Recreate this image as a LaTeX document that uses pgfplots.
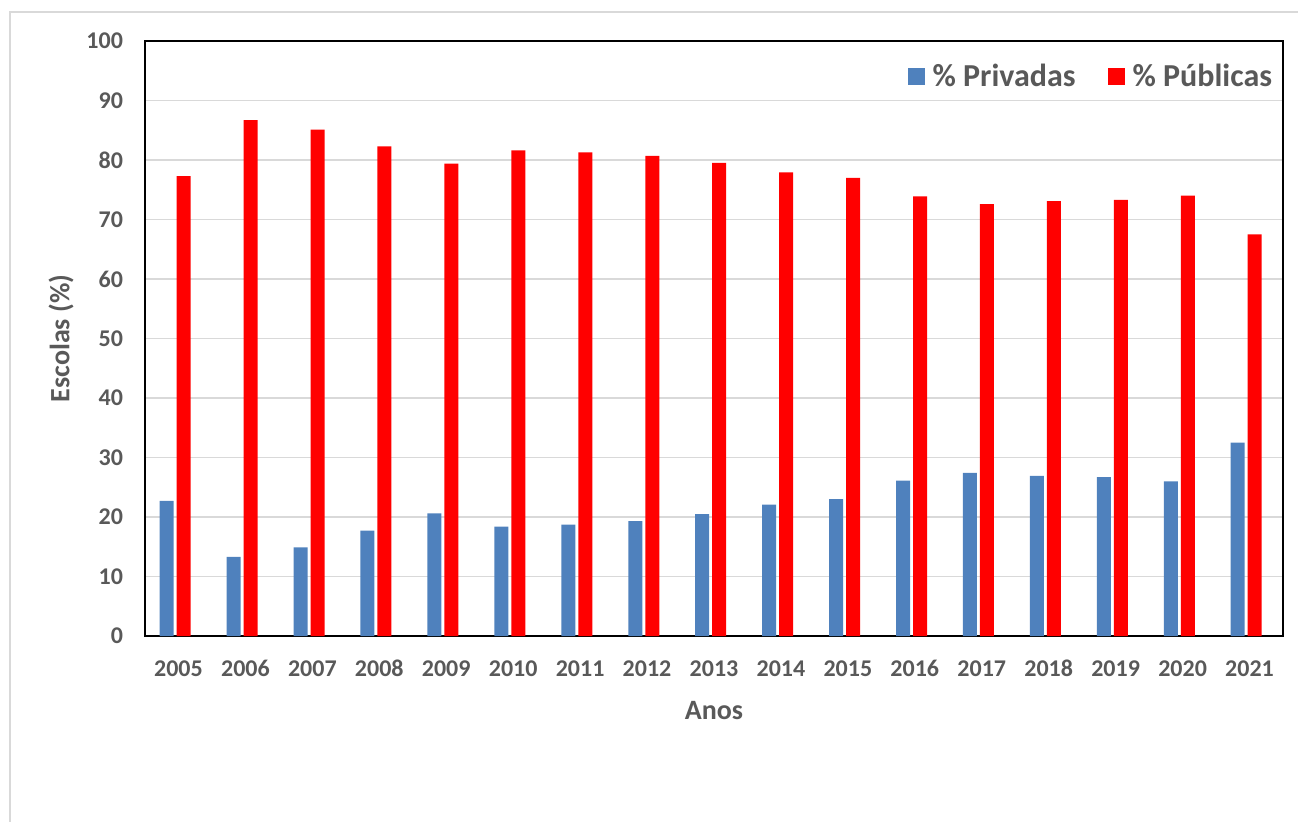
\documentclass[border=0pt]{standalone}
\usepackage{pgfplots}
\pgfplotsset{compat=1.18}
\usepackage{fontspec}
\setmainfont{Carlito}
\definecolor{Priv}{RGB}{79,129,189}
\definecolor{Pub}{RGB}{255,0,0}
\definecolor{txt}{RGB}{89,89,89}
\definecolor{gridc}{RGB}{217,217,217}

\begin{document}
\begin{tikzpicture}[x=0.5pt,y=0.5pt]
% page frame: 1298 x 821 px, 1 px = 0.5pt, axis box lower left at px (145,636)
\useasboundingbox (-145,-185) rectangle (1153,636);
\draw[gridc, line width=1pt] (-135,-300) rectangle (1300,624);
\begin{axis}[
    at={(0pt,0pt)}, anchor=south west,
    scale only axis,
    width=569pt, height=297.5pt,
    ybar,
    bar width=7pt,
    xmin=-0.5, xmax=16.5,
    ymin=0, ymax=100,
    ytick={0,10,...,100},
    xtick=data,
    xticklabels={2005,2006,2007,2008,2009,2010,2011,2012,2013,2014,2015,2016,2017,2018,2019,2020,2021},
    major tick length=0pt,
    ymajorgrids,
    grid style={gridc, line width=0.9pt},
    axis line style={black, line width=1pt},
    /pgf/number format/assume math mode=true,
    tick label style={font=\fontsize{12}{14}\selectfont\bfseries, text=txt},
    yticklabel style={xshift=-7.5pt},
    xticklabel style={yshift=-8.5pt, text height=8pt, text depth=0pt},
    xlabel={Anos}, ylabel={Escolas (\%)},
    label style={font=\fontsize{14}{16}\selectfont\bfseries, text=txt},
    xlabel style={yshift=-6pt},
    ylabel style={yshift=-0.5pt},
    legend columns=2,
    legend style={draw=none, fill=none, at={(1.003,0.975)}, anchor=north east,
        font=\fontsize{16}{18}\selectfont\bfseries, text=txt,
        /tikz/every even column/.append style={column sep=12pt},
        /tikz/every odd column/.append style={column sep=0pt}},
    legend image code/.code={\fill[#1] (0pt,-4.25pt) rectangle (8.5pt,4.25pt);},
    legend style={nodes={inner xsep=4pt}},
]
\addplot[fill=Priv, draw=none, bar shift=-5.9pt] coordinates {
(0,22.7) (1,13.3) (2,14.9) (3,17.7) (4,20.6) (5,18.4) (6,18.7) (7,19.3) (8,20.5)
(9,22.1) (10,23.0) (11,26.1) (12,27.4) (13,26.9) (14,26.7) (15,26.0) (16,32.5)
};
\addplot[fill=Pub, draw=none, bar shift=2.6pt] coordinates {
(0,77.3) (1,86.7) (2,85.1) (3,82.3) (4,79.4) (5,81.6) (6,81.3) (7,80.7) (8,79.5)
(9,77.9) (10,77.0) (11,73.9) (12,72.6) (13,73.1) (14,73.3) (15,74.0) (16,67.5)
};
\legend{\% Privadas, \% Públicas}
\end{axis}
\end{tikzpicture}
\end{document}
